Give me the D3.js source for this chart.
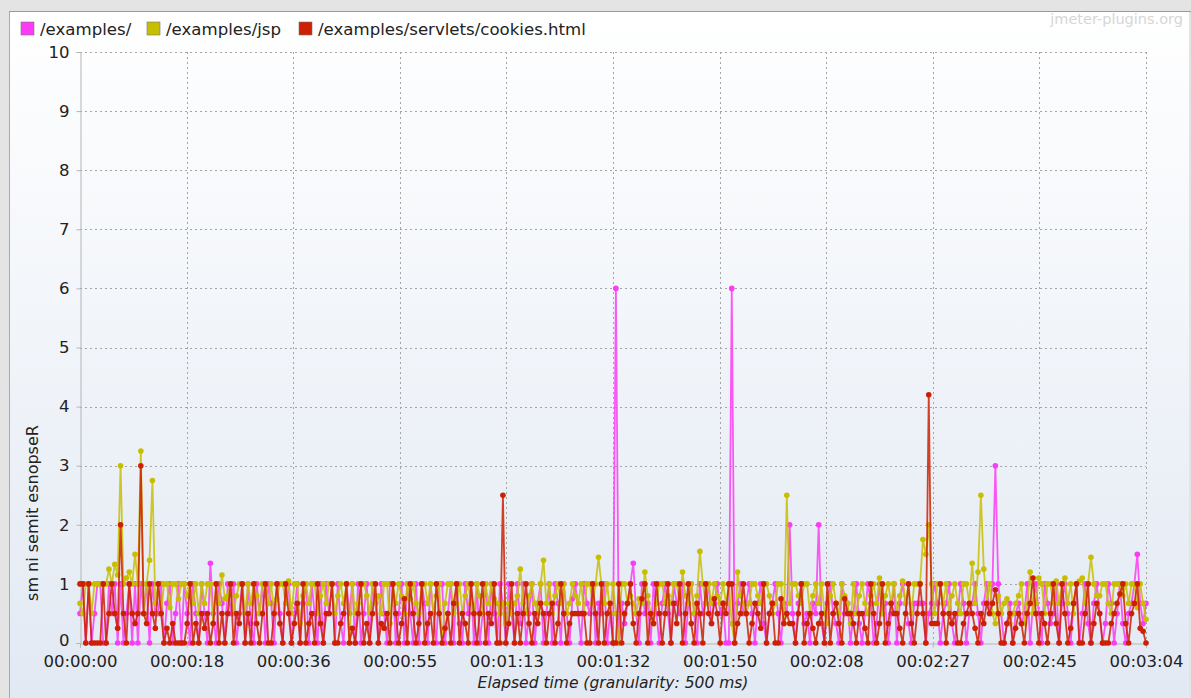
<!DOCTYPE html>
<html><head><meta charset="utf-8">
<script src="https://cdn.jsdelivr.net/npm/d3@7"></script>
<style>
body{margin:0;background:#e4e4e4;}
svg{display:block;font-family:"DejaVu Sans",sans-serif;}
</style></head>
<body>
<svg id="chart" width="1191" height="698"></svg>
<script>
// ---------- data ----------
const seriesNames = ["/examples/", "/examples/jsp", "/examples/servlets/cookies.html"];
const seriesColors = ["#fa3cf6", "#c8be00", "#cc2000"];
const granularitySec = 0.5;
const xDomainSec = [0, 184];
const xTickValues = [0, 18.4, 36.8, 55.2, 73.6, 92, 110.4, 128.8, 147.2, 165.6, 184];
const xTickLabels = ["00:00:00","00:00:18","00:00:36","00:00:55","00:01:13","00:01:32","00:01:50","00:02:08","00:02:27","00:02:45","00:03:04"];
const yTicks = [0,1,2,3,4,5,6,7,8,9,10];
const xTitle = "Elapsed time (granularity: 500 ms)";
const yTitle = "sm ni semit esnopseR";
const watermark = "jmeter-plugins.org";

const examplesVals = [
0.5,1,0,1,0,0.5,1,1,0,0,1,0.5,1,0,1,0,0.5,1,0,1,
0,1,0.5,1,0,1,0.5,0.5,1,0,0.67,1,0,0.5,1,0,1,0.5,0,1,
0.5,0,1,0.5,0,1.35,0.5,0,1,0.67,0,1,0.5,1,0,0.5,1,0,1,0.33,
0,1,0.5,1,0,1,0.67,0,1,0.5,0,1,1,0,0.5,1,0,0.67,1,0,
1,0.5,0,1,0,1,0.5,1,0,1,0.33,0,1,0.5,1,0,1,0,0.5,1,
0,1,0.67,0,1,0.5,0,1,1,0,0.5,1,0,1,0.5,0,1,0,1,0.67,
0,1,0.5,0,1,1,0,0.5,1,0,1,0.33,0,1,0.5,1,0,1,0,0.5,
1,0,1,0.5,0,1,0.67,0,1,0.5,0,1,0.33,1,0,0.5,1,0,0.67,1,
0,0.5,1,0,1,0.67,0,1,0.5,0,0.75,1,0.5,0,1,0.67,0.5,1,0,0.67,
0.5,1,0,0.5,0,6,0,0.67,0.33,0.67,1,1.35,0.5,0,1,0.5,0.67,0,1,0.5,
0,0.67,1,0.5,0,1,0.67,0.5,1,0,0.67,1,0.5,0,1,0.5,0.67,1,0.33,0.67,
1,0.5,0.67,0,0,6,0,0.67,1,0.5,0.67,1,0.5,0,0.67,1,0.33,0,0.5,0.67,
1,0.5,0,0.67,0.5,2,0.5,0,0.67,1,0.33,0.5,0,0.67,0.5,2,0.33,0,0.67,1,
0.5,0.33,0,1,0.5,0.67,0,0.5,1,0.33,0,0.5,1,0.67,0,0.33,1,0.5,0.67,0,
0.5,1,0,0.67,1,0.67,0.33,0,0.67,0.67,0.67,0.67,0,0.5,0.67,1,0.67,0,0.5,0.67,
1,0.33,0,0.5,1,0.67,0,0.5,0.67,1,0.5,0,0.67,1,0.5,1,3,1,0.5,0,
0.33,0.67,0,0.5,0.67,0.33,0.5,1,0,0.67,1,0.5,0,1,0.67,0.33,0.5,1,0,0.67,
1,0.5,0,0.67,1,0,0.5,1,0.33,0,0.67,1,0.5,0,0.33,1,0.67,0,0.5,1,
0.33,0,0.5,0.67,1,1.5,0.67,0.33,0.67
];

const jspVals = [
0.67,0.5,1,1,0.5,1,1,1,1,1,1.25,1,1.33,1.15,3,1,1.1,1.2,1,1.5,
1,3.25,0.5,1,1.4,2.75,0.67,1,0.5,1,1,0.6,1,1,0.75,1,1,0.8,1,0.67,
1,0.5,1,0.67,1,1,0.33,1,0.67,1.15,0.75,0.8,1,0.5,0.8,1,1,0.5,1,0.67,
1,0.8,0.5,1,1,0.67,1,0.5,0.75,1,1,0.67,1.05,0.5,1,1,0.33,0.8,1,0.67,
1,1,0.5,0.8,1,0.67,1,1,0.5,0.8,1,0.67,1,0,1,0.5,0.67,1,1,0.8,
0.5,1,0.67,0.8,0.5,1,1,0.33,1,0.67,1,0.8,0.5,1,0.75,1,0.67,0.5,1,1,
0.67,1,0.5,0.8,1,0,0.67,1,1,0.5,0.67,1,0.5,0.8,1,0.67,0.5,1,0.8,0.5,
1,0.67,1,0.75,0.67,0.5,0.67,0.33,0.67,0.5,0.67,0.8,1.25,0.67,0.5,0.8,1,0.67,0.5,1,
1.4,0.67,1,0.5,0.8,1,0.67,1,0.5,0.67,1,0.8,0.67,1,0.5,1,1,0.67,1,1.45,
1,0.67,1,0.5,1,0.5,0,1,1,0.67,0.8,0.67,0.5,0.75,0.67,1.2,0.8,0.5,0.33,0.67,
1,1,0.67,0.8,0.67,1,1,0.67,1.2,0.8,0.67,1,0.5,0.8,1.55,1,0.67,1,0.67,1,
0.8,0.67,1,0.67,1,0.33,0,1.2,0.8,0.67,0.5,0.67,1,1,0.8,0.67,1,1,0.8,0.5,
0.67,1,1,0.33,2.5,0.67,1,1,0.8,0.67,1,1,0.5,0.8,1,0.67,1,0.5,0.33,0.8,
1,0.67,0.5,1,0.8,0.67,0.33,1,0.5,0.8,1,0.67,0.5,0.8,1,0.67,1.1,0.5,0.8,1,
0.67,1,0.5,0.8,1.05,0.67,1,0.5,1,1,1,1.75,1.5,2,1,0.5,1,1,0.67,1,
0.5,0.8,1,0.67,0.5,1,1,0.67,1.35,0.67,1.2,2.5,1.25,0.67,1,0.5,0.33,0.8,0.5,0.67,
0.75,0.33,0.5,0.67,0.8,1,0.33,0.67,1.2,0.5,0.67,1.1,1,0.5,1,1,0.67,1.05,0.67,1,
1.1,0.67,1,0.5,1,1.05,1.1,0.67,1,1.45,1,0.8,0.8,1,1,0.67,0.5,1,1,1,
0.8,1,0.67,1,1,0.6,1,0.67,0.4
];

const cookiesVals = [
1,1,0,1,0,0,0,0,1,0,0.5,1,0.5,0.25,2,0.5,0,1,0.5,0.33,
0.5,3,0.5,0.33,1,0.5,0.25,1,0.5,0,0.25,0,0.33,0,0,0,0,0.33,1,0,
0.33,0,0.5,0.25,0.5,0,0.33,1,0,0.5,0,0.5,1,0,0.5,0.33,1,0,0.5,0,
1,0.33,0,0.5,1,0,0,0.5,1,0.33,0,1,0.5,0,0.33,0.67,0,1,0,0.33,
0.5,0,1,0.33,0,0.5,0.5,1,0,0,0.33,0.5,1,0,0.25,0,0.5,1,0,0.33,
0,0.5,1,0,0.33,0.25,0.5,0,1,0.5,0,0.33,0.75,0,1,0.5,0,0.33,1,0,
0.33,0.5,0,1,0.5,0,0.25,0.5,0,0.67,1,0,0.5,0.33,0,1,0.5,0,0.5,1,
0,0.5,0.33,1,0,0,2.5,0,0.33,1,0,0.5,0,0.5,1,0.33,0,0.5,0.33,0.67,
0.5,0,0.5,0.67,0,0.33,1,0.5,0,0.33,0.5,0.5,0.5,0.5,0.5,0,0,1,0.5,0,
1,0,0.5,0.67,0,0,1,0,0.5,0.67,1,0.33,0,0.5,0.75,1,0,0.5,0.33,1,
0.5,0,0.5,1,0,0.67,0.33,1,0,0.5,1,0.33,0,0.67,0.5,0,1,0.5,0.33,0.75,
0.5,0,0.67,0.5,1,1,0,0.33,0.5,1,0.5,0,0.33,0.67,0.5,0.25,1,0,0.5,0.67,
0,0,0.75,0.33,0.5,0.33,0.33,0,0.5,1,0,0.33,0.5,0.25,0,0.33,0.5,0,1,0,
0.5,0.67,0.33,0,0.75,0.5,0.5,0.33,0,0.5,0.5,0.25,0,1,0.5,0,0.33,1,0,0.33,
0.67,0.5,0.5,0.25,0,0.5,1,0.33,0,0.5,1,0.5,0,4.2,0.33,0.33,0.33,1,0.5,0,
0.5,0.33,0.5,0,0,0.33,0.5,0.67,0.5,0.25,0,0.5,0.33,0.67,0.5,0.67,0.9,0.5,0,0,
0.33,0.5,0,0.25,0.5,0.33,0,0.5,0.67,1.1,0.5,0,0.5,0.33,0,0.5,1,0.33,0,1,
0.5,0,0.25,0.67,1,0,0,0.5,1,0,0.33,0.67,0.5,0,0,0,0.33,0.5,0.67,0.83,
1,0.33,0,0.5,0.67,1,0.25,0.2,0
];

const seriesValues = [examplesVals, jspVals, cookiesVals];

// ---------- layout ----------
const W = 1191, H = 698;
const plot = {left: 80, right: 1146, top: 52, bottom: 643};

const svg = d3.select("#chart");
const defs = svg.append("defs");
const grad = defs.append("linearGradient").attr("id","bg").attr("x1",0).attr("y1",0).attr("x2",0).attr("y2",1);
grad.append("stop").attr("offset","0%").attr("stop-color","#ffffff");
grad.append("stop").attr("offset","100%").attr("stop-color","#e2e9f3");

svg.append("rect").attr("width",W).attr("height",H).attr("fill","#e4e4e4");
svg.append("rect").attr("x",10).attr("y",12).attr("width",1179).attr("height",H-12).attr("fill","url(#bg)");
svg.append("line").attr("x1",9.5).attr("x2",9.5).attr("y1",12).attr("y2",H).attr("stroke","#a9a9a9");
svg.append("line").attr("x1",9).attr("x2",W).attr("y1",11.5).attr("y2",11.5).attr("stroke","#9a9a9a");

const x = d3.scaleLinear().domain(xDomainSec).range([plot.left, plot.right]);
const y = d3.scaleLinear().domain([0, 10]).range([plot.bottom, plot.top]);

// grid
const grid = svg.append("g").attr("stroke","#a5a5a5").attr("stroke-width",1).attr("stroke-dasharray","2,3");
grid.selectAll(".hg").data(yTicks.filter(v=>v>0)).join("line")
  .attr("x1",plot.left).attr("x2",plot.right)
  .attr("y1",d=>Math.round(y(d))+0.5).attr("y2",d=>Math.round(y(d))+0.5);
grid.selectAll(".vg").data(xTickValues.filter(v=>v>0)).join("line")
  .attr("x1",d=>Math.round(x(d))+0.5).attr("x2",d=>Math.round(x(d))+0.5)
  .attr("y1",plot.top).attr("y2",plot.bottom);

// axes
const yAxis = d3.axisLeft(y).tickValues(yTicks).tickSize(4).tickPadding(7).tickFormat(d3.format("d"));
const gy = svg.append("g").attr("transform",`translate(${plot.left+0.5},0)`).call(yAxis);
const xAxis = d3.axisBottom(x).tickValues(xTickValues).tickSize(4).tickPadding(6)
  .tickFormat((d,i)=>xTickLabels[i]);
const gx = svg.append("g").attr("transform",`translate(0,${plot.bottom+0.5})`).call(xAxis);
[gx, gy].forEach(g=>{
  g.select(".domain").attr("stroke","#b4b4b4");
  g.selectAll(".tick line").attr("stroke","#b4b4b4");
  g.selectAll(".tick text").attr("fill","#222").style("font-size","16.5px").style("font-family","DejaVu Sans, sans-serif");
});
gx.selectAll(".tick text").attr("dy","0.8em");
gy.selectAll(".tick text").attr("dy",d=>d===0 ? "0.15em" : "0.32em");

// axis titles
svg.append("text").attr("x",(plot.left+plot.right)/2).attr("y",688).attr("text-anchor","middle")
  .style("font-size","15.5px").style("font-style","italic").attr("fill","#222").text(xTitle);
svg.append("text").attr("transform","translate(38,513) rotate(-90)").attr("text-anchor","middle")
  .style("font-size","16px").attr("fill","#222").text(yTitle);

// watermark
svg.append("text").attr("x",1183).attr("y",24).attr("text-anchor","end")
  .style("font-size","14.5px").attr("fill","#d6d6d6").text(watermark);

// series
const line = d3.line().x(d=>x(d.t)).y(d=>y(d.v));
seriesValues.forEach((vals, si)=>{
  const pts = vals.map((v,i)=>({t:i*granularitySec, v}));
  const g = svg.append("g");
  g.append("path").datum(pts).attr("d",line).attr("fill","none")
    .attr("stroke",seriesColors[si]).attr("stroke-width",1.8).attr("stroke-opacity",0.85).attr("stroke-linejoin","round");
  g.selectAll("circle").data(pts).join("circle")
    .attr("cx",d=>x(d.t)).attr("cy",d=>y(d.v)).attr("r",2.8).attr("fill",seriesColors[si]);
});

// legend
const legendX = [21, 147, 299];
const leg = svg.append("g");
seriesNames.forEach((n,i)=>{
  leg.append("rect").attr("x",legendX[i]).attr("y",22).attr("width",13).attr("height",13)
    .attr("fill",seriesColors[i]).attr("stroke","#777").attr("stroke-width",0.6);
  leg.append("text").attr("x",legendX[i]+19).attr("y",35).style("font-size","16.6px").attr("fill","#222").text(n);
});
</script>
</body></html>
